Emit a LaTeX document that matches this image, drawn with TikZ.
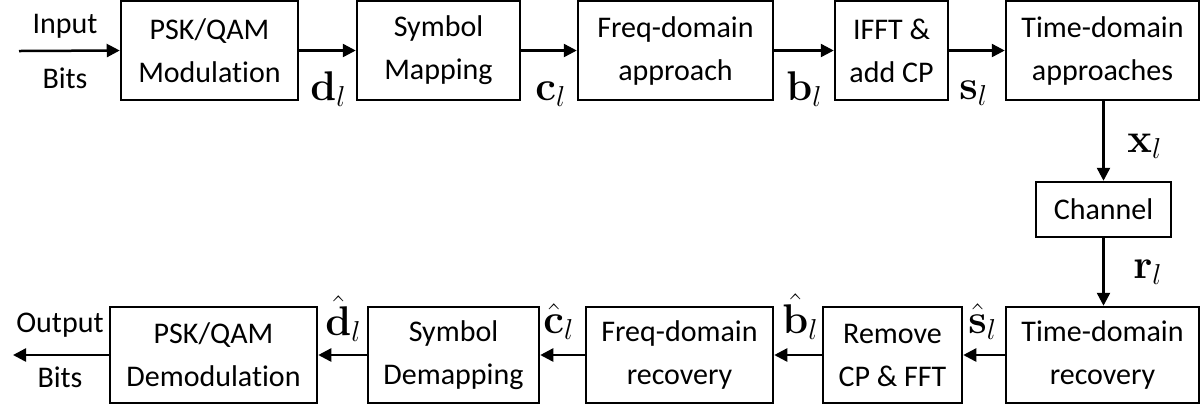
\documentclass[tikz,border=0pt]{standalone}
\usepackage[no-math]{fontspec}
\setmainfont{Carlito}[Ligatures=CommonOff]
\usetikzlibrary{arrows.meta}
\begin{document}
\begin{tikzpicture}[x=0.5pt,y=-0.5pt,
  blk/.style={draw, line width=1.25pt, align=center, inner sep=0pt,
    font=\fontsize{15}{21.5}\selectfont},
  arr/.style={line width=1.25pt, -{Triangle[length=6.5pt,width=6.5pt]}},
  lab/.style={inner sep=0pt, anchor=base west, font=\fontsize{20.5}{24}\selectfont},
  txt/.style={inner sep=0pt, anchor=base, font=\fontsize{15}{18}\selectfont}]
\useasboundingbox (0,0) rectangle (1200,404);
% top row
\node[blk, minimum width=88.5pt, minimum height=49.5pt] (mod) at (209.5,50.5) {PSK/QAM\\Modulation};
\node[blk, minimum width=81.5pt, minimum height=49.5pt] (map) at (438.5,50.5) {Symbol\\Mapping};
\node[blk, minimum width=97.5pt, minimum height=49.5pt] (freq) at (675.5,50.5) {Freq-domain\\approach};
\node[blk, minimum width=56.5pt, minimum height=49.5pt] (ifft) at (891.5,50.5) {IFFT \&\\add CP};
\node[blk, minimum width=96.5pt, minimum height=49.5pt] (time) at (1102.5,50.5) {Time-domain\\approaches};
% channel
\node[blk, minimum width=67.5pt, minimum height=27.5pt] (chan) at (1103.5,209.5) {Channel};
% bottom row
\node[blk, minimum width=96.5pt, minimum height=48pt] (trec) at (1102.5,355) {Time-domain\\recovery};
\node[blk, minimum width=69.5pt, minimum height=48pt] (rem) at (892.5,355) {Remove\\CP \& FFT};
\node[blk, minimum width=93.5pt, minimum height=48pt] (frec) at (679.5,355) {Freq-domain\\recovery};
\node[blk, minimum width=85.5pt, minimum height=48pt] (demap) at (453.5,355) {Symbol\\Demapping};
\node[blk, minimum width=103.5pt, minimum height=48pt] (demod) at (213.5,355) {PSK/QAM\\Demodulation};
% free ends
\coordinate (in) at (19,51);
\coordinate (out) at (13,355);
% texts
\node[txt] (tin) at (65,33) {Input};
\node[txt] (tbin) at (65,88) {Bits};
\node[txt] (tout) at (60,332) {Output};
\node[txt] (tbout) at (60,387) {Bits};
% connectors
\draw[arr] (in) -- (mod.west);
\draw[arr] (mod) -- (map);
\draw[arr] (map) -- (freq);
\draw[arr] (freq) -- (ifft);
\draw[arr] (ifft) -- (time);
\draw[arr] (time.south -| chan.north) -- (chan.north);
\draw[arr] (chan.south) -- (trec.north -| chan.south);
\draw[arr] (trec) -- (rem);
\draw[arr] (rem) -- (frec);
\draw[arr] (frec) -- (demap);
\draw[arr] (demap) -- (demod);
\draw[arr] (demod.west) -- (out);
% labels
\node[lab] (ld) at (310,100) {$\mathbf{d}_l$};
\node[lab] (lc) at (535,100) {$\mathbf{c}_l$};
\node[lab] (lb) at (786,100) {$\mathbf{b}_l$};
\node[lab] (ls) at (959,99) {$\mathbf{s}_l$};
\node[lab] (lx) at (1127,152) {$\mathbf{x}_l$};
\node[lab] (lr) at (1133,278) {$\mathbf{r}_l$};
\node[lab] (lsh) at (968,333) {$\hat{\mathbf{s}}_l$};
\node[lab] (lbh) at (782,333) {$\hat{\mathbf{b}}_l$};
\node[lab] (lch) at (543,333) {$\hat{\mathbf{c}}_l$};
\node[lab] (ldh) at (325,335) {$\hat{\mathbf{d}}_l$};
\end{tikzpicture}
\end{document}
